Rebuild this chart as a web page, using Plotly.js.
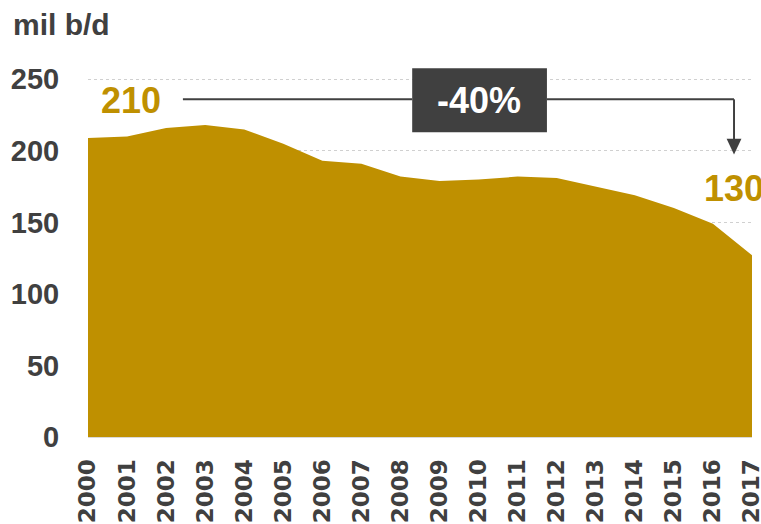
<!DOCTYPE html>
<html>
<head>
<meta charset="utf-8">
<script src="https://cdn.plot.ly/plotly-3.0.1.min.js"></script>
<style>html,body{margin:0;padding:0;background:#fff}#chart{width:761px;height:524px}</style>
</head>
<body>
<div id="chart"></div>
<script>
var years = [2000,2001,2002,2003,2004,2005,2006,2007,2008,2009,2010,2011,2012,2013,2014,2015,2016,2017];
var yearLabels = ["2000","2001","2002","2003","2004","2005","2006","2007","2008","2009","2010","2011","2012","2013","2014","2015","2016","2017"];
var production = [209,210,216,218,215,205,193,191,182,179,180,182,181,175,169,160,149,127];
var yTicks = [0,50,100,150,200,250];
var startLabel = "210";
var endLabel = "130";
var changeLabel = "-40%";
var unitLabel = "mil b/d";

var gold = "#BF9000";
var dark = "#404040";

var trace = {
  x: years,
  y: production,
  type: "scatter",
  mode: "lines",
  fill: "tozeroy",
  fillcolor: gold,
  line: {width: 0, color: gold},
  hoverinfo: "skip"
};

var layout = {
  width: 761,
  height: 524,
  margin: {l: 88, r: 9, t: 65, b: 87},
  paper_bgcolor: "#fff",
  plot_bgcolor: "#fff",
  showlegend: false,
  title: {
    text: unitLabel,
    x: 13/761, xanchor: "left", xref: "container",
    y: 1 - 24/524, yanchor: "middle", yref: "container",
    font: {family: "Liberation Sans", size: 30, color: dark, weight: "bold"}
  },
  xaxis: {
    range: [2000, 2017],
    tickmode: "array",
    tickvals: years,
    ticktext: yearLabels,
    tickangle: -90,
    ticklabeloverflow: "allow",
    tickfont: {family: "DejaVu Sans", size: 23, color: dark, weight: "bold"},
    ticks: "outside", ticklen: 12, tickcolor: "rgba(0,0,0,0)",
    showgrid: false,
    showline: true, linecolor: "#D9D9D9", linewidth: 1,
    zeroline: false,
    fixedrange: true
  },
  yaxis: {
    range: [0, 260],
    tickmode: "array",
    tickvals: yTicks,
    ticktext: yTicks.map(String),
    tickfont: {family: "Liberation Sans", size: 29, color: dark, weight: "bold"},
    ticks: "outside", ticklen: 22, tickcolor: "rgba(0,0,0,0)",
    showgrid: true, gridcolor: "#D0D0D0", griddash: "dot", gridwidth: 1,
    zeroline: false,
    showline: false,
    fixedrange: true
  },
  shapes: [
    {type: "line", xref: "x", yref: "y", x0: 2002.43, x1: 2008.3, y0: 236, y1: 236, line: {color: dark, width: 2}},
    {type: "line", xref: "x", yref: "y", x0: 2011.75, x1: 2016.54, y0: 236, y1: 236, line: {color: dark, width: 2}},
    {type: "line", xref: "x", yref: "y", x0: 2016.54, x1: 2016.54, y0: 236, y1: 207, line: {color: dark, width: 2}},
    {type: "path", xref: "x", yref: "y", path: "M 2016.35 208.5 L 2016.73 208.5 L 2016.54 197.5 Z", fillcolor: dark, line: {width: 0}},
    {type: "rect", xref: "x", yref: "y", x0: 2008.3, x1: 2011.75, y0: 213, y1: 257.7, fillcolor: dark, line: {width: 0}}
  ],
  annotations: [
    {xref: "x", yref: "y", x: 2001.1, y: 235.5, text: startLabel, showarrow: false,
     font: {family: "Liberation Sans", size: 36, color: gold, weight: "bold"}, xanchor: "center", yanchor: "middle"},
    {xref: "x", yref: "y", x: 2010.02, y: 235.5, text: changeLabel, showarrow: false,
     font: {family: "Liberation Sans", size: 36, color: "#ffffff", weight: "bold"}, xanchor: "center", yanchor: "middle"},
    {xref: "x", yref: "y", x: 2016.54, y: 173.5, text: endLabel, showarrow: false,
     font: {family: "Liberation Sans", size: 36, color: gold, weight: "bold"}, xanchor: "center", yanchor: "middle"}
  ]
};

Plotly.newPlot("chart", [trace], layout, {displayModeBar: false, staticPlot: true});
</script>
</body>
</html>
